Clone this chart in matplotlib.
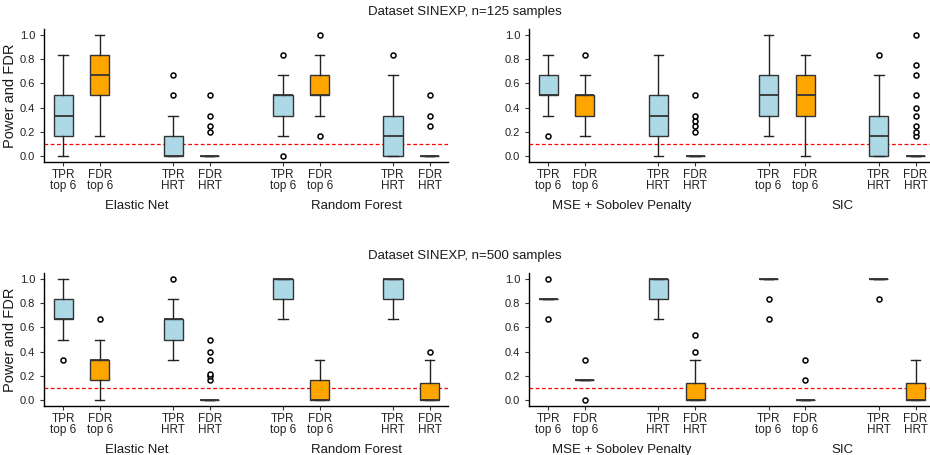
import matplotlib
matplotlib.use('Agg')
import matplotlib.pyplot as plt

plt.rcParams['font.family'] = ['Liberation Sans', 'DejaVu Sans']

tick_labels = ['TPR\ntop 6', 'FDR\ntop 6', 'TPR\nHRT', 'FDR\nHRT'] * 2
box_colors = ['lightblue', 'orange'] * 4

# box stats: (whisker low, q1, median, q3, whisker high)
en_rf_125 = [(0, 0.167, 0.333, 0.5, 0.833), (0.167, 0.5, 0.667, 0.833, 1.0),
             (0, 0, 0, 0.167, 0.333), (0, 0, 0, 0, 0),
             (0.167, 0.333, 0.5, 0.5, 0.667), (0.333, 0.5, 0.5, 0.667, 0.833),
             (0, 0, 0.167, 0.333, 0.667), (0, 0, 0, 0, 0)]
en_rf_125_out = [[], [], [0.5, 0.667], [0.2, 0.25, 0.333, 0.5],
                 [0, 0.833], [0.167, 1.0], [0.833], [0.25, 0.333, 0.5]]

mse_sic_125 = [(0.333, 0.5, 0.5, 0.667, 0.833), (0.167, 0.333, 0.5, 0.5, 0.667),
               (0, 0.167, 0.333, 0.5, 0.833), (0, 0, 0, 0, 0),
               (0.167, 0.333, 0.5, 0.667, 1.0), (0, 0.333, 0.5, 0.667, 0.833),
               (0, 0, 0.167, 0.333, 0.667), (0, 0, 0, 0, 0)]
mse_sic_125_out = [[0.167], [0.833], [], [0.2, 0.25, 0.286, 0.333, 0.5],
                   [], [], [0.833],
                   [0.167, 0.2, 0.25, 0.333, 0.4, 0.5, 0.667, 0.75, 1.0]]

en_rf_500 = [(0.5, 0.667, 0.667, 0.833, 1.0), (0, 0.167, 0.333, 0.333, 0.5),
             (0.333, 0.5, 0.667, 0.667, 0.833), (0, 0, 0, 0, 0),
             (0.667, 0.833, 1.0, 1.0, 1.0), (0, 0, 0, 0.167, 0.333),
             (0.667, 0.833, 1.0, 1.0, 1.0), (0, 0, 0, 0.143, 0.333)]
en_rf_500_out = [[0.333], [0.667], [1.0], [0.167, 0.2, 0.214, 0.333, 0.4, 0.5],
                 [], [], [], [0.4]]

mse_sic_500 = [(0.833, 0.833, 0.833, 0.833, 0.833), (0.167, 0.167, 0.167, 0.167, 0.167),
               (0.667, 0.833, 1.0, 1.0, 1.0), (0, 0, 0, 0.143, 0.333),
               (1.0, 1.0, 1.0, 1.0, 1.0), (0, 0, 0, 0, 0),
               (1.0, 1.0, 1.0, 1.0, 1.0), (0, 0, 0, 0.143, 0.333)]
mse_sic_500_out = [[0.667, 1.0], [0, 0.333], [], [0.4, 0.538],
                   [0.667, 0.833], [0.167, 0.333], [0.833], []]

methods_left = ['Elastic Net', 'Random Forest']
methods_right = ['MSE + Sobolev Penalty', 'SIC']
titles = ['Dataset SINEXP, n=125 samples', 'Dataset SINEXP, n=500 samples']

positions = [0, 1, 3, 4, 6, 7, 9, 10]
W, H = 930, 455
grey = '#333333'


def draw_panel(rect, stats, outliers, methods, ylabel=None):
    ax = fig.add_axes(rect)
    bstats = []
    for (lo, q1, med, q3, hi), fl in zip(stats, outliers):
        bstats.append(dict(whislo=lo, q1=q1, med=med, q3=q3, whishi=hi, fliers=fl))
    bp = ax.bxp(bstats, positions=positions, widths=0.52, capwidths=0.26,
                patch_artist=True, manage_ticks=False,
                boxprops=dict(edgecolor=grey, linewidth=1.0),
                medianprops=dict(color=grey, linewidth=1.3),
                whiskerprops=dict(color='#222222', linewidth=1.0),
                capprops=dict(color='#222222', linewidth=1.0),
                flierprops=dict(marker='o', markersize=3.6, markerfacecolor='white',
                                markeredgecolor='black', markeredgewidth=1.1))
    for patch, c in zip(bp['boxes'], box_colors):
        patch.set_facecolor(c)
    ax.axhline(0.1, color='red', linestyle=(0, (3, 2)), linewidth=0.9, zorder=0)
    ax.set_xlim(-0.52, 10.5)
    ax.set_ylim(-0.05, 1.05)
    ax.set_yticks([0, 0.2, 0.4, 0.6, 0.8, 1.0])
    ax.set_yticklabels(['0.0', '0.2', '0.4', '0.6', '0.8', '1.0'])
    ax.set_xticks(positions)
    ax.set_xticklabels(tick_labels, linespacing=0.95)
    ax.tick_params(labelsize=8.5, colors=grey, length=3, width=0.8, labelcolor='#222222')
    ax.tick_params(axis='x', pad=2)
    ax.tick_params(axis='y', labelsize=8)
    for s in ['top', 'right']:
        ax.spines[s].set_visible(False)
    for s in ['left', 'bottom']:
        ax.spines[s].set_linewidth(1.0)
        ax.spines[s].set_color('black')
    for m, x in zip(methods, [2, 8]):
        ax.text(x, -0.33, m, transform=ax.get_xaxis_transform(), ha='center',
                va='center', fontsize=9.5, color='#1a1a1a')
    if ylabel:
        ax.set_ylabel(ylabel, fontsize=10.5, labelpad=2, color='#1a1a1a')
    return ax


fig = plt.figure(figsize=(W / 100, H / 100), dpi=100)

rows = [(29, 162), (273, 406)]
row_data = [((en_rf_125, en_rf_125_out), (mse_sic_125, mse_sic_125_out)),
            ((en_rf_500, en_rf_500_out), (mse_sic_500, mse_sic_500_out))]
for (top, bottom), (left_d, right_d), title, ty in zip(rows, row_data, titles, [12, 256]):
    rl = [44 / W, (H - bottom) / H, 404 / W, (bottom - top) / H]
    rr = [529 / W, (H - bottom) / H, 405 / W, (bottom - top) / H]
    draw_panel(rl, left_d[0], left_d[1], methods_left, ylabel='Power and FDR')
    draw_panel(rr, right_d[0], right_d[1], methods_right)
    fig.text(0.5, 1 - ty / H, title, ha='center', va='center', fontsize=9.5, color='#1a1a1a')

fig.savefig('out.png', dpi=100)
